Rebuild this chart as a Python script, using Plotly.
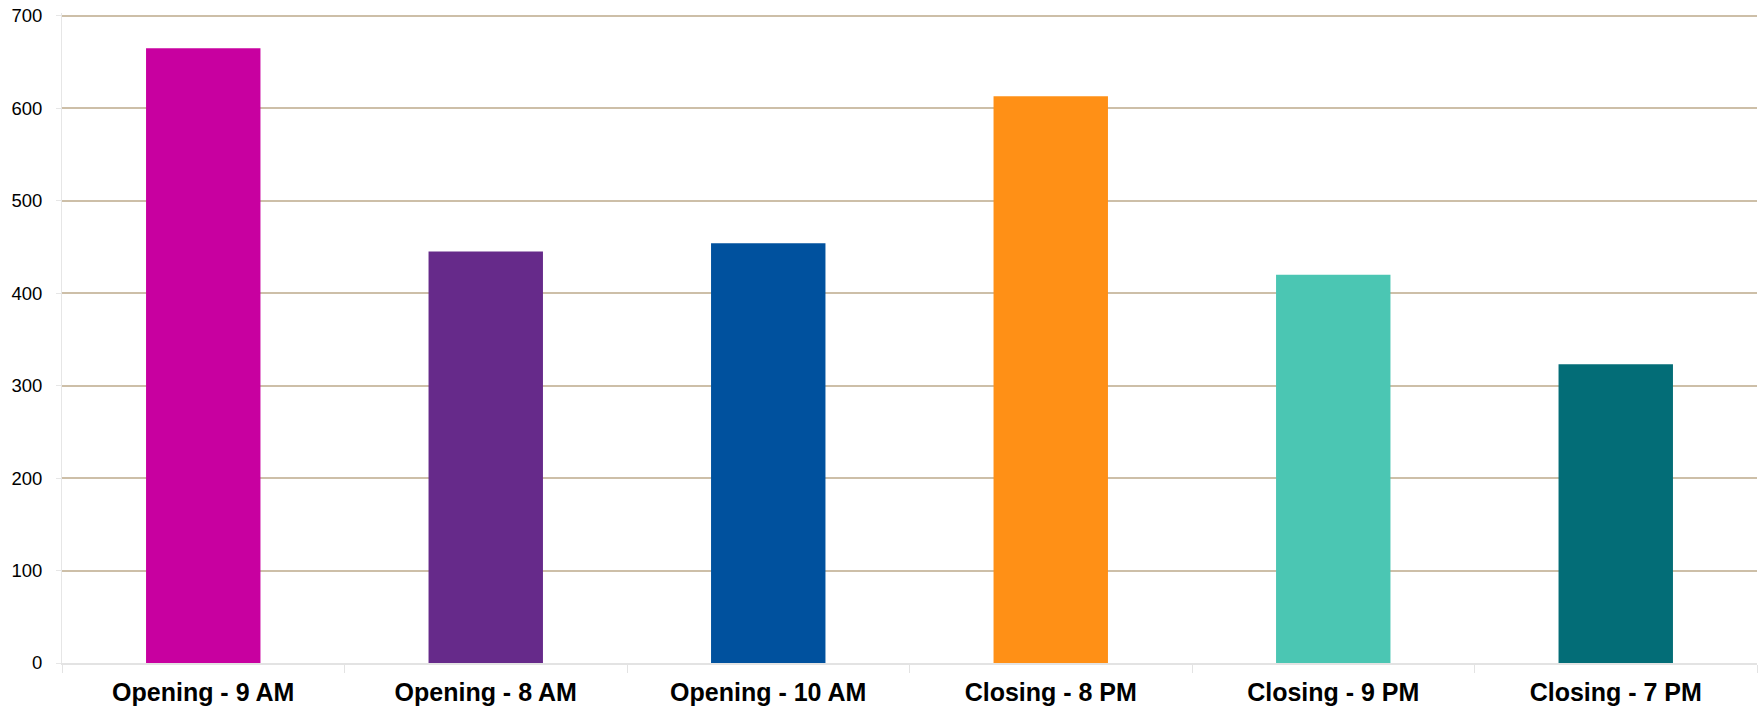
import plotly.graph_objects as go

categories = ["Opening - 9 AM", "Opening - 8 AM", "Opening - 10 AM",
              "Closing - 8 PM", "Closing - 9 PM", "Closing - 7 PM"]
values = [665, 445, 454, 613, 420, 323]
colors = ["#C800A0", "#662A8A", "#00519E", "#FF9016", "#4BC6B3", "#036D77"]

fig = go.Figure(go.Bar(x=categories, y=values, marker=dict(color=colors, line=dict(width=0)),
                       width=0.405))

fig.update_layout(
    width=1759, height=710,
    margin=dict(l=62, r=2, t=13, b=47, autoexpand=False),
    paper_bgcolor="white", plot_bgcolor="white",
    showlegend=False,
    font=dict(family="Liberation Sans, Arial, sans-serif", color="black"),
)
fig.update_yaxes(range=[0, 703], tickvals=[0, 100, 200, 300, 400, 500, 600, 700],
                 showgrid=True, gridcolor="#CDBFA8", gridwidth=2,
                 zeroline=False, showline=True, linecolor="#E6E6E6", linewidth=1,
                 ticks="outside", ticklen=5, tickcolor="#E6E6E6", automargin=False,
                 ticklabelstandoff=10,
                 tickfont=dict(size=18.5, color="black"))
fig.update_xaxes(showline=True, linecolor="#E3E3E3", linewidth=2, ticks="outside",
                 tickson="boundaries", ticklen=8, tickcolor="#E3E3E3", automargin=False,
                 ticklabelstandoff=6,
                 tickfont=dict(size=25, color="black", family="Liberation Sans, Arial, sans-serif", weight="bold"))

fig.write_html("out.html", config={"displayModeBar": False},
               post_script="document.body.style.margin='0';document.body.style.overflow='hidden';")
